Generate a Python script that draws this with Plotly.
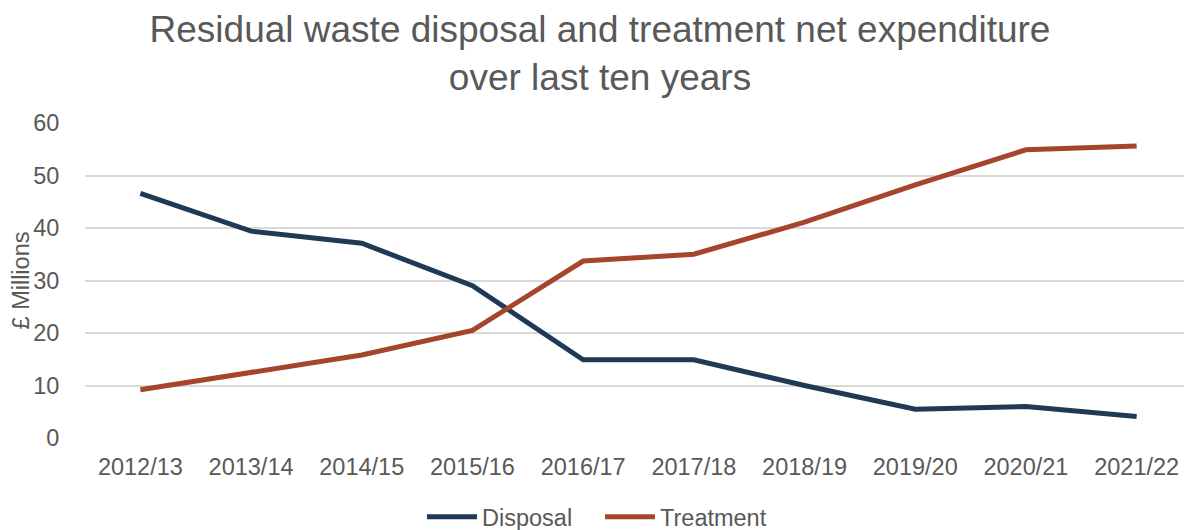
import plotly.graph_objects as go

years = ["2012/13", "2013/14", "2014/15", "2015/16", "2016/17",
         "2017/18", "2018/19", "2019/20", "2020/21", "2021/22"]
disposal = [46.6, 39.4, 37.1, 29.0, 14.9, 14.9, 10.0, 5.5, 6.0, 4.1]
treatment = [9.2, 12.5, 15.8, 20.5, 33.7, 35.0, 41.1, 48.2, 54.9, 55.6]

grey = "#595959"
font = "Liberation Sans, Arial, sans-serif"

fig = go.Figure()
fig.add_trace(go.Scatter(x=years, y=disposal, name="Disposal", mode="lines",
                         line=dict(color="#203A56", width=5)))
fig.add_trace(go.Scatter(x=years, y=treatment, name="Treatment", mode="lines",
                         line=dict(color="#A4452C", width=5)))

# page body has an 8px margin, so the figure is a bit smaller than the window
fig.update_layout(
    width=1184, height=522,
    paper_bgcolor="white", plot_bgcolor="white",
    margin=dict(l=77, r=0, t=115, b=92),
    font=dict(family=font, color=grey, size=23.5),
    title=dict(text="Residual waste disposal and treatment net expenditure<br>over last ten years",
               x=0.5, xanchor="center", yref="container", y=0.935, yanchor="middle",
               font=dict(size=37, color=grey)),
    legend=dict(orientation="h", xref="container", x=0.5, xanchor="center",
                yref="container", y=0.025, yanchor="middle",
                font=dict(size=23.5, color=grey), itemwidth=50, entrywidth=113,
                tracegroupgap=0),
    showlegend=True,
)
fig.update_xaxes(showgrid=False, showline=False, ticks="outside", ticklen=8,
                 tickcolor="rgba(0,0,0,0)", tickfont=dict(size=23.5),
                 range=[-0.5, 9.5], automargin=False)
fig.update_yaxes(range=[0, 60], dtick=10, showgrid=True, gridcolor="#D9D9D9", gridwidth=1.5,
                 zeroline=False, tickfont=dict(size=23.5), ticks="outside", ticklen=20,
                 tickcolor="rgba(0,0,0,0)", automargin=False,
                 title=dict(text="£ Millions", font=dict(size=23.5, color=grey), standoff=4))

fig.write_html("out.html")
